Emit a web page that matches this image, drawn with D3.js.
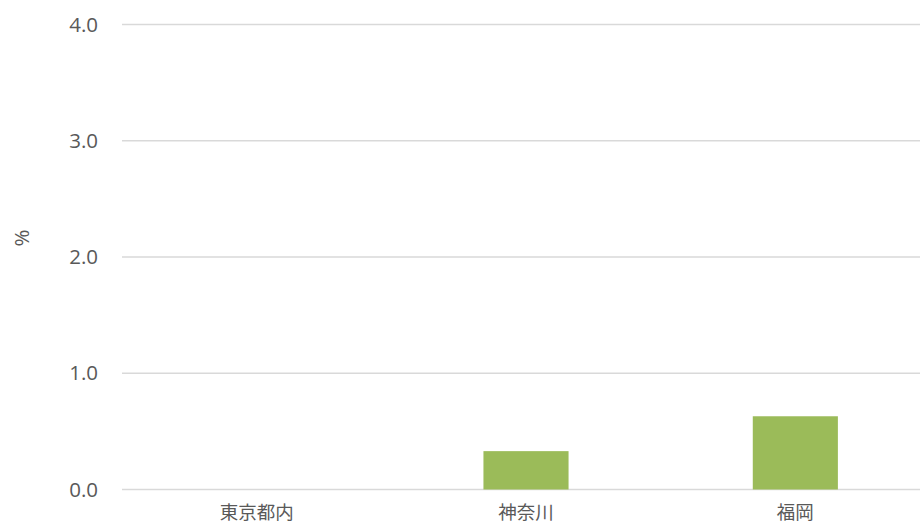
<!DOCTYPE html>
<html>
<head>
<meta charset="utf-8">
<script src="https://cdn.jsdelivr.net/npm/d3@7"></script>
<style>
  body { margin: 0; background: #fff; }
  text { font-family: "Open Sans", "Noto Sans CJK JP", sans-serif; fill: #595959; }
</style>
</head>
<body>
<svg id="chart" width="920" height="525"></svg>
<script>
// Data
const categories = ["東京都内", "神奈川", "福岡"];
const values = [0, 0.33, 0.63];
const yTicks = [0, 1, 2, 3, 4];

const svg = d3.select("#chart");

const x = d3.scaleBand()
  .domain(categories)
  .range([122, 930])
  .paddingInner(0.684)
  .paddingOuter(0.342);

const y = d3.scaleLinear()
  .domain([0, 4])
  .range([489.5, 24.5]);

// gridlines
svg.append("g")
  .selectAll("line")
  .data(yTicks)
  .enter()
  .append("line")
  .attr("x1", 122)
  .attr("x2", 920)
  .attr("y1", d => y(d))
  .attr("y2", d => y(d))
  .attr("stroke", "#d9d9d9")
  .attr("stroke-width", 1.3);

// y tick labels
svg.append("g")
  .selectAll("text")
  .data(yTicks)
  .enter()
  .append("text")
  .attr("x", 98)
  .attr("y", d => y(d))
  .attr("dy", "0.35em")
  .attr("text-anchor", "end")
  .style("font-size", "20.5px")
  .text(d => d3.format(".1f")(d));

// y axis title
svg.append("text")
  .attr("transform", "translate(22,238) rotate(-90)")
  .attr("text-anchor", "middle")
  .attr("dy", "0.35em")
  .style("font-size", "20.5px")
  .text("%");

// bars
svg.append("g")
  .selectAll("rect")
  .data(values)
  .enter()
  .append("rect")
  .attr("x", (d, i) => x(categories[i]))
  .attr("y", d => y(d))
  .attr("width", x.bandwidth())
  .attr("height", d => y(0) - y(d))
  .attr("fill", "#9bbb59");

// category labels
svg.append("g")
  .selectAll("text")
  .data(categories)
  .enter()
  .append("text")
  .attr("x", d => x(d) + x.bandwidth() / 2)
  .attr("y", 513)
  .attr("dy", "0.35em")
  .attr("text-anchor", "middle")
  .style("font-size", "18.5px")
  .text(d => d);
</script>
</body>
</html>
